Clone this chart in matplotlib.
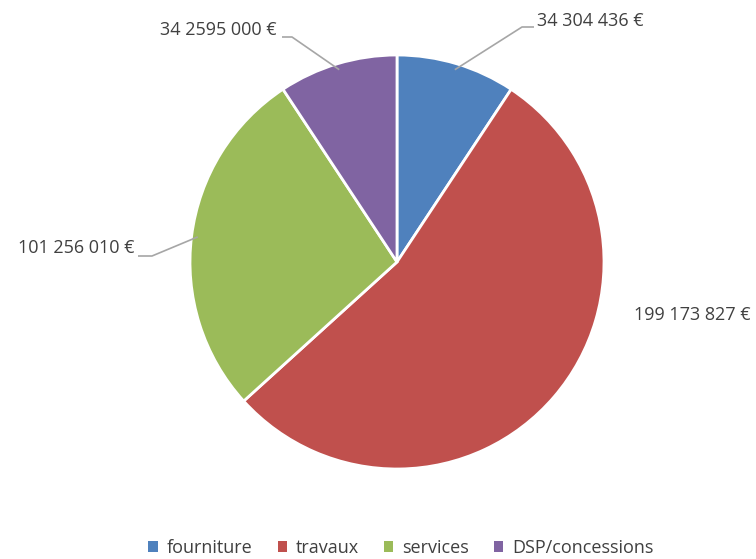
import numpy as np
import matplotlib
matplotlib.use('Agg')
import matplotlib.pyplot as plt
from matplotlib.patches import Patch

# --- DATA ---
categories = ['fourniture', 'travaux', 'services', 'DSP/concessions']
values = [34304436, 199173827, 101256010, 34259500]
value_labels = ['34 304 436 €', '199 173 827 €', '101 256 010 €', '34 2595 000 €']
colors = ['#4F81BD', '#C0504D', '#9BBB59', '#8064A2']

TEXT_COLOR = '#404040'
LINE_COLOR = '#A6A6A6'
W, H = 756, 559

plt.rcParams['font.family'] = ['Open Sans', 'DejaVu Sans']

fig = plt.figure(figsize=(W / 100, H / 100), dpi=100)
ax = fig.add_axes([0, 0, 1, 1])

center = (397, H - 262)
radius = 207
wedges, _ = ax.pie(values, colors=colors, startangle=90, counterclock=False,
                   center=center, radius=radius,
                   wedgeprops=dict(edgecolor='white', linewidth=2))
ax.set_xlim(0, W)
ax.set_ylim(0, H)
ax.set_aspect('auto')
ax.axis('off')

# label text position (left/right anchor x, center y) and leader elbow
label_pos = [(537, H - 21, 'left'), (634, H - 315, 'left'),
             (135, H - 248, 'right'), (277, H - 30, 'right')]
elbows = [(522, H - 27), None, (152, H - 256), (292, H - 37)]
ends = [(534, H - 27), None, (138, H - 256), (282, H - 37)]

for w, (tx, ty, ha), elb, end, lab in zip(wedges, label_pos, elbows, ends, value_labels):
    ax.text(tx, ty, lab, ha=ha, va='center', fontsize=13, color=TEXT_COLOR)
    if elb is None:
        continue
    mid = np.deg2rad((w.theta1 + w.theta2) / 2)
    px = center[0] + radius * 0.97 * np.cos(mid)
    py = center[1] + radius * 0.97 * np.sin(mid)
    ax.plot([px, elb[0], end[0]], [py, elb[1], end[1]], color=LINE_COLOR, lw=1.2,
            solid_capstyle='butt')

handles = [Patch(facecolor=c, edgecolor='none') for c in colors]
fig.legend(handles, categories, loc='center', bbox_to_anchor=(401 / W, 1 - 548 / H),
           ncol=4, frameon=False, fontsize=13, labelcolor=TEXT_COLOR,
           handlelength=0.5, handleheight=0.5, handletextpad=0.5, columnspacing=1.4)

fig.savefig('out.png', dpi=100)
